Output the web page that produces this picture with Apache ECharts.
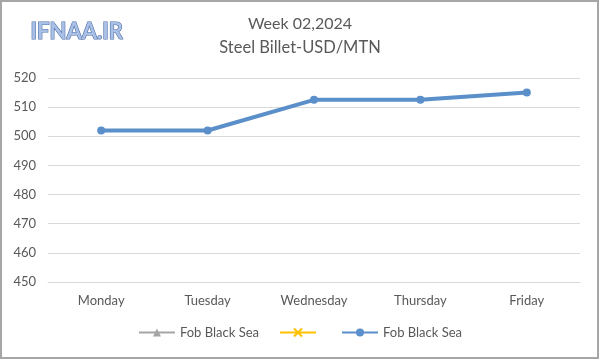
<!DOCTYPE html>
<html><head><meta charset="utf-8">
<script src="https://cdn.jsdelivr.net/npm/echarts@6/dist/echarts.min.js"></script>
<style>html,body{margin:0;padding:0;background:#fff}#c{width:600px;height:360px}</style>
</head><body><div id="c"></div>
<script>
const categories = ['Monday','Tuesday','Wednesday','Thursday','Friday'];
const fobValues = [502, 502, 512.5, 512.5, 515];
const legendNames = ['Fob Black Sea', '\u200b', 'Fob Black Sea\u200b'];
const yTicks = {min: 450, max: 520, interval: 10};
const titleLines = ['Week 02,2024', 'Steel Billet-USD/MTN'];
const logoText = 'IFNAA.IR';

const chart = echarts.init(document.getElementById('c'), null, {renderer:'canvas'});
const font = 'Lato, "Open Sans", sans-serif';
chart.setOption({
  animation:false,
  backgroundColor:'#fff',
  textStyle:{fontFamily:font},
  graphic:[
    {type:'rect', shape:{x:1,y:1,width:597,height:357}, style:{fill:'none', stroke:'#a6a6a6', lineWidth:2}},
    {type:'text', left:30, top:20, style:{text:logoText, font:'bold 22px Lato, sans-serif', fill:'#a9c0e6', stroke:'#4f6fa8', lineWidth:1.2}},
    {type:'text', left:'center', top:16, style:{text:titleLines[0], font:'16px '+font, fill:'#595959'}},
    {type:'text', left:'center', top:39, style:{text:titleLines[1], font:'16.5px '+font, fill:'#595959'}}
  ],
  grid:{left:48, right:20, top:78, bottom:78},
  legend:{
    bottom:16, left:'center', itemGap:20, itemWidth:36, itemHeight:10,
    textStyle:{color:'#595959', fontSize:13, fontFamily:font},
    data:legendNames
  },
  xAxis:{
    type:'category', data:categories, boundaryGap:true,
    axisLine:{lineStyle:{color:'#d9d9d9'}}, axisTick:{show:false},
    axisLabel:{color:'#595959', fontSize:13, margin:12}
  },
  yAxis:{
    type:'value', min:yTicks.min, max:yTicks.max, interval:yTicks.interval,
    axisLine:{show:false}, axisTick:{show:false},
    splitLine:{lineStyle:{color:'#d9d9d9'}},
    axisLabel:{color:'#595959', fontSize:13, margin:12}
  },
  series:[
    {name:legendNames[0], type:'line', data:[], symbol:'triangle', symbolSize:8,
     lineStyle:{color:'#a5a5a5', width:2}, itemStyle:{color:'#a5a5a5'}},
    {name:legendNames[1], type:'line', data:[], symbol:'path://M0,0L10,10M10,0L0,10', symbolSize:8,
     lineStyle:{color:'#ffc000', width:2}, itemStyle:{color:'#ffc000', borderColor:'#ffc000', borderWidth:1.5}},
    {name:legendNames[2], type:'line', data:fobValues, symbol:'circle', symbolSize:8,
     lineStyle:{color:'#5b8fc9', width:4}, itemStyle:{color:'#5b8fc9'}}
  ]
});
</script></body></html>
